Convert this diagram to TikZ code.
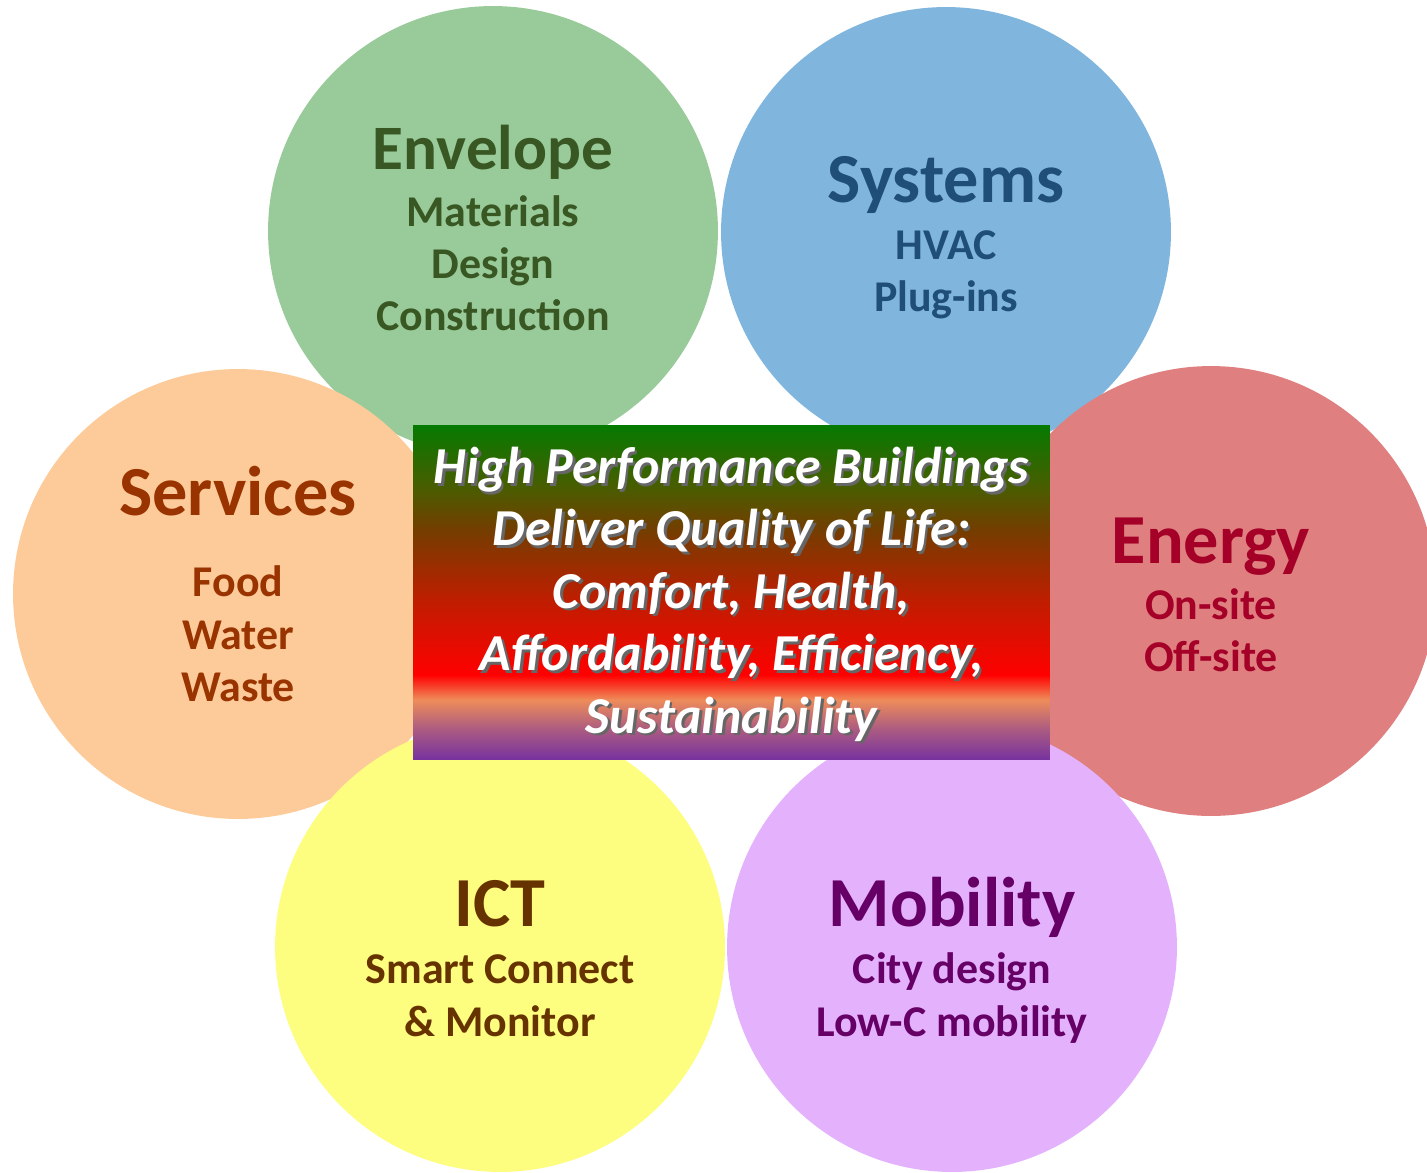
\documentclass[tikz,border=0pt]{standalone}
\usepackage{fontspec}
\setmainfont{Carlito}
\usetikzlibrary{positioning}

\definecolor{envfill}{RGB}{153,203,154}
\definecolor{envtext}{RGB}{56,87,35}
\definecolor{sysfill}{RGB}{128,182,221}
\definecolor{systext}{RGB}{31,78,121}
\definecolor{enefill}{RGB}{223,127,127}
\definecolor{enetext}{RGB}{165,0,40}
\definecolor{serfill}{RGB}{253,203,153}
\definecolor{sertext}{RGB}{153,51,0}
\definecolor{ictfill}{RGB}{253,253,128}
\definecolor{icttext}{RGB}{102,51,0}
\definecolor{mobfill}{RGB}{228,178,253}
\definecolor{mobtext}{RGB}{102,0,102}
\definecolor{hpbgreen}{RGB}{5,122,0}
\definecolor{hpbolive}{RGB}{75,92,0}
\definecolor{hpbbrown}{RGB}{115,62,0}
\definecolor{hpbrust}{RGB}{190,30,0}
\definecolor{hpbred}{RGB}{255,0,0}
\definecolor{hpborange}{RGB}{238,140,90}
\definecolor{hpbmauve}{RGB}{170,90,130}
\definecolor{hpbpurple}{RGB}{118,50,160}

\pgfdeclareverticalshading{hpbshade}{100bp}{color(0bp)=(hpbpurple); color(25bp)=(hpbpurple); color(29.5bp)=(hpbmauve); color(34bp)=(hpborange); color(37.7bp)=(hpbred); color(49bp)=(hpbrust); color(59.5bp)=(hpbbrown); color(65.5bp)=(hpbolive); color(75bp)=(hpbgreen); color(100bp)=(hpbgreen)}

\newcommand{\bubtitle}[2][40]{{\fontsize{#1}{#1}\selectfont #2}}
\newcommand{\shadowtext}[1]{\leavevmode\rlap{\hspace{1.5pt}\raisebox{-1.5pt}{\color{black!60}#1}}#1}

\begin{document}
\begin{tikzpicture}[x=0.02cm, y=-0.02cm,
    bubble/.style={circle, minimum size=9cm, inner sep=0pt, align=center,
        text depth=0pt, text height=#1,
        font=\fontsize{25}{29.6}\selectfont\bfseries},
    hpbbox/.style={rectangle, minimum width=12.74cm, minimum height=6.7cm,
        shading=hpbshade, text=white, align=center,
        text depth=0pt, text height=160pt,
        font=\fontsize{29.5}{35.5}\selectfont\bfseries\itshape}]
    \useasboundingbox (0,0) rectangle (1427,1173);
    \clip (0,0) rectangle (1427,1173);
    \node[bubble=113.8pt, fill=envfill, text=envtext] (envelope) at (493,231)
        {\bubtitle[36]{Envelope}\\[3pt] Materials\\ Design\\ Construction};
    \node[bubble=91pt, fill=sysfill, text=systext] (systems) at (946,232)
        {\bubtitle{Systems}\\[3pt] HVAC\\ Plug-ins};
    \node[bubble=121.8pt, fill=serfill, text=sertext] (services) at (238,594)
        {\bubtitle{Services}\\[17pt] Food\\ Water\\ Waste};
    \node[bubble=92pt, fill=enefill, text=enetext] (energy) at (1211,591)
        {\bubtitle{Energy}\\[2.5pt] On-site\\ Off-site};
    \node[bubble=101.3pt, fill=ictfill, text=icttext] (ict) at (500,947)
        {\bubtitle{ICT}\\[3pt] Smart Connect\\ \& Monitor};
    \node[bubble=101.3pt, fill=mobfill, text=mobtext] (mobility) at (952,947)
        {\bubtitle{Mobility}\\[3pt] City design\\ Low-C mobility};
    % central box
    \node[hpbbox] (hpb) at (731.5,592.5)
        {\shadowtext{High Performance Buildings}\\
         \shadowtext{Deliver Quality of Life:}\\
         \shadowtext{Comfort, Health,}\\
         \shadowtext{Affordability, Efficiency,}\\
         \shadowtext{Sustainability}};
\end{tikzpicture}
\end{document}
